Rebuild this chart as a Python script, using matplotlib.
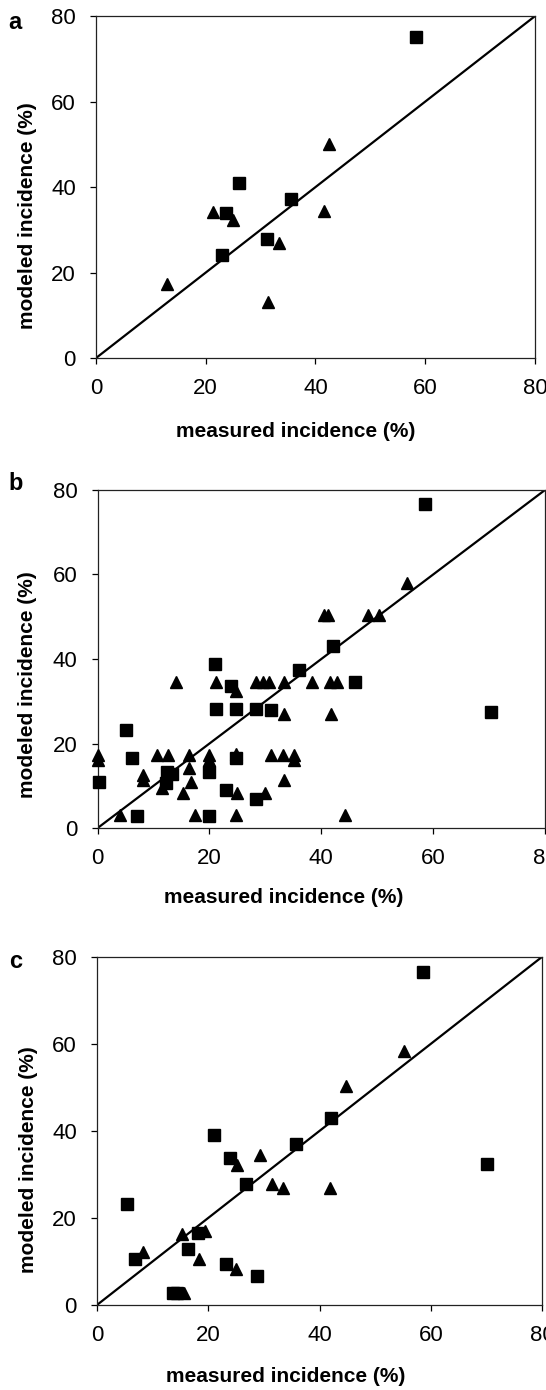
import matplotlib
matplotlib.use('Agg')
import matplotlib.pyplot as plt

plt.rcParams['font.family'] = ['Liberation Sans', 'DejaVu Sans']

# panel a
a_sq_x = [58.3, 26.1, 35.6, 23.7, 31.2, 23.0]
a_sq_y = [75.1, 41.0, 37.2, 33.9, 27.8, 24.0]
a_tri_x = [42.5, 21.3, 24.9, 41.6, 33.3, 12.9, 31.4]
a_tri_y = [50.1, 34.2, 32.3, 34.3, 27.0, 17.3, 13.0]

# panel b
b_sq_x = [58.5, 42.1, 36.0, 20.9, 23.9, 46.1, 21.2, 24.8, 28.4, 31.0, 70.4, 5.1,
          6.1, 24.8, 19.9, 12.4, 13.3, 12.2, 0.2, 22.9, 28.4, 7.0, 19.9]
b_sq_y = [76.7, 43.1, 37.4, 38.8, 33.7, 34.5, 28.2, 28.2, 28.2, 28.0, 27.5, 23.1,
          16.6, 16.6, 13.3, 13.3, 12.9, 10.7, 10.8, 8.9, 6.9, 2.9, 2.9]
b_tri_x = [55.3, 40.4, 41.2, 48.4, 50.4,
           14.1, 21.2, 28.4, 29.6, 30.7, 33.4, 38.4, 41.5, 42.8,
           24.8, 33.3, 41.8,
           0.0, 0.0, 10.7, 12.5, 16.4, 19.9, 19.9, 24.8, 31.0, 33.1, 35.2, 35.2,
           8.1, 8.1, 16.4, 16.7, 33.3, 11.6, 15.2, 24.9, 30.0,
           4.0, 17.5, 24.8, 44.3]
b_tri_y = [58.1, 50.3, 50.3, 50.3, 50.3,
           34.5, 34.5, 34.5, 34.5, 34.5, 34.5, 34.5, 34.5, 34.5,
           32.5, 27.1, 27.1,
           17.3, 16.2, 17.3, 17.3, 17.3, 17.3, 16.2, 17.5, 17.3, 17.3, 17.3, 16.2,
           12.5, 11.4, 14.1, 11.0, 11.4, 9.4, 8.2, 8.2, 8.2,
           3.1, 3.0, 3.0, 3.0]

# panel c
c_sq_x = [58.6, 21.1, 35.8, 42.0, 23.9, 26.8, 70.1, 5.3, 6.9, 18.2, 16.4, 23.2, 28.7, 13.6, 14.4]
c_sq_y = [76.6, 39.0, 37.0, 42.9, 33.8, 27.9, 32.5, 23.2, 10.6, 16.5, 12.9, 9.5, 6.7, 2.7, 2.7]
c_tri_x = [55.1, 44.8, 29.3, 25.1, 31.5, 33.5, 41.8, 15.3, 19.5, 8.3, 18.4, 25.0, 15.7]
c_tri_y = [58.3, 50.4, 34.5, 32.1, 27.9, 26.9, 26.9, 16.3, 17.1, 12.2, 10.6, 8.3, 2.7]

ticks = [0, 20, 40, 60, 80]

panels = [
    ('a', a_sq_x, a_sq_y, a_tri_x, a_tri_y, [0.1758, 0.7424, 0.804, 0.246], (0.456, -0.216), (-0.155, 0.418), 0.9835),
    ('b', b_sq_x, b_sq_y, b_tri_x, b_tri_y, [0.1788, 0.4043, 0.8194, 0.2432], (0.417, -0.207), (-0.156, 0.423), 0.6525),
    ('c', c_sq_x, c_sq_y, c_tri_x, c_tri_y, [0.1777, 0.0612, 0.815, 0.2504], (0.424, -0.207), (-0.155, 0.417), 0.3085),
]

fig = plt.figure(figsize=(5.46, 13.9), dpi=100)

for letter, sx, sy, tx, ty, pos, xl, yl, ly in panels:
    ax = fig.add_axes(pos)
    ax.plot([0, 80], [0, 80], color='black', lw=1.6, zorder=2)
    ax.plot(sx, sy, 's', color='black', markersize=8.5, zorder=3, clip_on=False)
    ax.plot(tx, ty, '^', color='black', markersize=8.3, zorder=3, clip_on=False)
    ax.set_xlim(0, 80)
    ax.set_ylim(0, 80)
    ax.set_xticks(ticks)
    ax.set_yticks(ticks)
    ax.tick_params(direction='out', length=4.5, width=0.9, labelsize=16, pad=10)
    for s in ax.spines.values():
        s.set_linewidth(0.9)
        s.set_color('#222222')
    ax.set_xlabel('measured incidence (%)', fontsize=15, fontweight='bold')
    ax.set_ylabel('modeled incidence (%)', fontsize=15, fontweight='bold')
    ax.xaxis.set_label_coords(*xl)
    ax.yaxis.set_label_coords(*yl)
    ax.xaxis.label.set_va('center')
    ax.yaxis.label.set_va('center')
    fig.text(0.028, ly, letter, fontsize=17, fontweight='bold', ha='center', va='center')

fig.savefig('out.png', dpi=100)
